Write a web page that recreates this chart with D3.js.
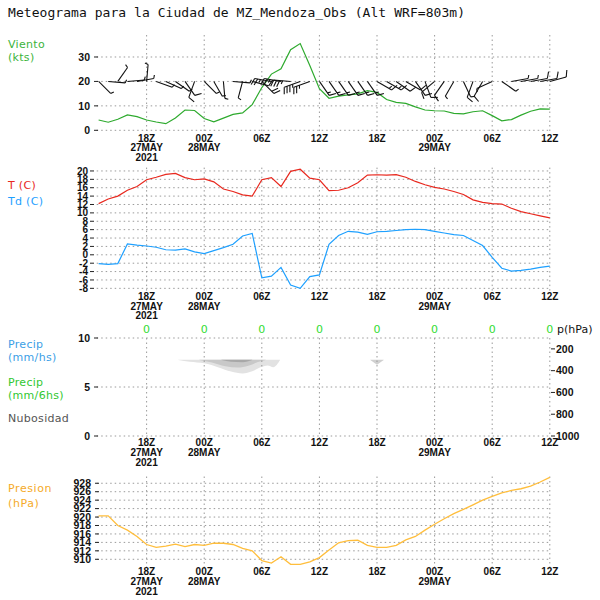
<!DOCTYPE html>
<html><head><meta charset="utf-8">
<script src="https://cdn.jsdelivr.net/npm/d3@7"></script>
<style>body{margin:0;background:#fff} svg{display:block}</style>
</head><body>
<svg id="c" width="600" height="600"></svg>
<script>
// ---------- DATA ----------
const hours = [13,14,15,16,17,18,19,20,21,22,23,24,25,26,27,28,29,30,31,32,33,34,35,36,
               37,38,39,40,41,42,43,44,45,46,47,48,49,50,51,52,53,54,55,56,57,58,59,60];
const windSpeed = [4.2,3.3,4.5,6.3,5.6,4.2,3.4,2.7,5.0,8.3,8.1,4.8,3.5,5.0,6.5,7.1,10.5,17.5,23.0,25.2,33.0,35.5,26.5,17.0,
                   13.1,14.0,14.5,14.9,16.2,15.5,12.6,11.4,11.0,9.6,8.3,8.0,7.9,6.9,6.7,7.6,8.0,6.0,3.9,4.4,6.2,7.8,8.8,8.7];
const windDir = [135,95,35,85,80,5,110,115,125,145,200,135,150,175,95,195,105,135,280,280,275,250,250,145,
                 145,145,145,145,145,120,120,125,120,145,160,230,215,210,155,200,210,245,125,80,80,80,80,75];
const temperature = [12.2,13.3,14.0,15.4,16.3,17.9,18.5,19.2,19.4,18.4,17.9,18.1,17.4,15.7,15.1,14.3,14.0,17.9,18.4,16.3,19.9,20.4,18.3,17.9,
                     15.3,15.4,16.0,17.2,19.0,19.1,19.0,19.1,18.5,17.5,16.7,16.1,15.7,15.1,14.4,13.1,12.5,12.2,12.1,11.1,10.3,9.8,9.3,8.8];
const dewpoint = [-2.1,-2.3,-2.1,2.6,2.3,2.1,1.8,1.2,1.1,1.4,0.7,0.3,1.0,1.7,2.5,4.5,5.1,-5.5,-5.1,-3.0,-7.2,-8.0,-5.2,-4.8,
                  2.5,4.6,5.6,5.4,4.9,5.5,5.6,5.8,6.0,6.1,6.0,5.6,5.2,4.8,4.6,3.4,2.2,-0.6,-3.2,-3.9,-3.7,-3.4,-3.0,-2.7];
const pressure = [920.3,920.3,918.0,916.9,915.4,913.5,912.8,913.1,913.6,913.0,913.5,913.3,913.8,913.8,913.5,912.6,912.0,909.7,909.1,910.6,908.8,908.8,909.4,910.4,
                  912.2,913.9,914.4,914.5,913.3,912.8,912.8,913.3,914.6,915.4,916.9,918.3,919.6,920.8,921.8,922.9,924.0,924.9,925.7,926.3,926.7,927.3,928.3,929.4];

const tickHours = [18,24,30,36,42,48,54,60];
const tickTimeLabels = ["18Z","00Z","06Z","12Z","18Z","00Z","06Z","12Z"];
const tickDateLabels = ["27MAY","28MAY","","","","29MAY","",""];
const tickYearLabels = ["2021","","","","","","",""];
const precip6h = [0,0,0,0,0,0,0,0];

const windTicks = [0,10,20,30];
const tempTicks = [20,18,16,14,12,10,8,6,4,2,0,-2,-4,-6,-8];
const precipTicks = [0,5,10];
const pLevelTicks = [200,400,600,800,1000];
const presTicks = [910,912,914,916,918,920,922,924,926,928];

// cloud cover cross-section: [hour, top hPa, bottom hPa]
const cloudLight = [[21.3,300,302],[22.5,300,318],[24,300,332],[25.5,300,370],[26.8,300,408],[28,300,425],[29,300,405],[30,300,365],[30.6,300,352],[31.2,300,368],[31.9,300,302]];
const cloudMedium = [[23.5,300,302],[24.8,300,325],[26.2,300,360],[27.5,300,372],[28.6,300,355],[29.6,300,320],[30.4,300,302]];
const cloudDark = [[25.8,300,302],[26.8,300,318],[28,300,322],[29,300,302]];
const cloudSmall = [[41.3,300,302],[42,300,345],[42.7,300,302]];

// ---------- DRAW ----------
const svg = d3.select("#c");
const FONT_TICK = "'Liberation Sans', Arial, sans-serif";
const FONT_LAB = "'DejaVu Sans', sans-serif";
const GRID = "#9a9a9a";

const x = d3.scaleLinear().domain([12.8, 60]).range([96.7, 549.8]);

svg.append("text").attr("x", 8).attr("y", 17)
  .attr("font-family", "'DejaVu Sans Mono', monospace").attr("font-size", 13)
  .attr("textLength", 457).attr("lengthAdjust", "spacing").attr("fill", "#111")
  .text("Meteograma para la Ciudad de MZ_Mendoza_Obs (Alt WRF=803m)");

function leftLabel(txt, y, color, ls) {
  svg.append("text").attr("x", 8).attr("y", y).attr("font-family", FONT_LAB)
    .attr("font-size", 11).attr("letter-spacing", ls || 0.3).attr("fill", color).text(txt);
}

function panel(cfg) {
  const g = svg.append("g");
  const [y0, y1] = cfg.y.range(); // bottom, top
  g.selectAll(".vg").data(tickHours).join("line")
    .attr("x1", d => x(d)).attr("x2", d => x(d))
    .attr("y1", y1).attr("y2", y0 + 3)
    .attr("stroke", GRID).attr("stroke-width", 1).attr("stroke-dasharray", "1.5,3");
  g.selectAll(".hg").data(cfg.ticks).join("line")
    .attr("x1", x.range()[0]).attr("x2", x.range()[1])
    .attr("y1", d => cfg.y(d)).attr("y2", d => cfg.y(d))
    .attr("stroke", GRID).attr("stroke-width", 1).attr("stroke-dasharray", "1.5,3");
  g.selectAll(".yd").data(cfg.ticks).join("line")
    .attr("x1", cfg.dash[0]).attr("x2", cfg.dash[1])
    .attr("y1", d => cfg.y(d)).attr("y2", d => cfg.y(d))
    .attr("stroke", "#222").attr("stroke-width", 1);
  g.selectAll(".yl").data(cfg.ticks).join("text")
    .attr("x", cfg.labelEnd).attr("y", d => cfg.y(d)).attr("dy", "0.36em")
    .attr("text-anchor", "end").attr("font-family", FONT_TICK).attr("font-weight", "bold")
    .attr("font-size", cfg.fs || 10.5).attr("fill", "#111").text(d => d);
  const rows = [tickTimeLabels, tickDateLabels, tickYearLabels];
  rows.forEach((arr, r) => {
    g.selectAll(".xl" + r).data(tickHours).join("text")
      .attr("x", d => x(d)).attr("y", cfg.xBase + r * cfg.xStep)
      .attr("text-anchor", "middle").attr("font-family", FONT_TICK).attr("font-weight", "bold")
      .attr("font-size", 10).attr("fill", "#111").text((d, i) => arr[i]);
  });
  return g;
}

// Wind panel
const yW = d3.scaleLinear().domain([0, 39]).range([130.3, 35]);
panel({y: yW, ticks: windTicks, dash: [94, 98], labelEnd: 90, xBase: 141.5, xStep: 9.5});
leftLabel("Viento", 48, "#3cb43c");
leftLabel("(kts)", 61, "#3cb43c");
svg.append("path").datum(hours.map((h, i) => [h, windSpeed[i]]))
  .attr("fill", "none").attr("stroke", "#2eaa2e").attr("stroke-width", 1.2)
  .attr("d", d3.line().x(d => x(d[0])).y(d => yW(d[1])));

// wind barbs at the 20 kt level
const barbG = svg.append("g").attr("stroke", "#111").attr("stroke-width", 1.1).attr("fill", "none");
hours.forEach((h, i) => {
  const x0 = x(h), y0 = yW(20);
  const a = windDir[i] * Math.PI / 180;
  const sx = Math.sin(a), sy = -Math.cos(a);
  const L = 17;
  const tx = x0 + L * sx, ty = y0 + L * sy;
  barbG.append("line").attr("x1", x0).attr("y1", y0).attr("x2", tx).attr("y2", ty);
  const spd = Math.round(windSpeed[i] / 5) * 5;
  const full = Math.floor(spd / 10), half = (spd % 10) ? 1 : 0;
  const ang = Math.atan2(sy, sx) - 70 * Math.PI / 180;
  const fx = Math.cos(ang), fy = Math.sin(ang);
  let pos = 0;
  for (let k = 0; k < full; k++) {
    const px = tx - pos * sx, py = ty - pos * sy;
    barbG.append("line").attr("x1", px).attr("y1", py).attr("x2", px + 7 * fx).attr("y2", py + 7 * fy);
    pos += 3;
  }
  if (half) {
    const px = tx - pos * sx, py = ty - pos * sy;
    barbG.append("line").attr("x1", px).attr("y1", py).attr("x2", px + 3.5 * fx).attr("y2", py + 3.5 * fy);
  }
});

// Temperature panel
const yT = d3.scaleLinear().domain([-8.3, 20.8]).range([289.6, 167.6]);
panel({y: yT, ticks: tempTicks, dash: [90, 94], labelEnd: 88, xBase: 300, xStep: 9.5, fs: 10});
leftLabel("T (C)", 189, "#e8281e");
leftLabel("Td (C)", 205, "#1ea0ff");
svg.append("path").datum(hours.map((h, i) => [h, temperature[i]]))
  .attr("fill", "none").attr("stroke", "#e8281e").attr("stroke-width", 1.2)
  .attr("d", d3.line().x(d => x(d[0])).y(d => yT(d[1])));
svg.append("path").datum(hours.map((h, i) => [h, dewpoint[i]]))
  .attr("fill", "none").attr("stroke", "#1ea0ff").attr("stroke-width", 1.2)
  .attr("d", d3.line().x(d => x(d[0])).y(d => yT(d[1])));

// Precip / cloud panel
const yP = d3.scaleLinear().domain([0, 10]).range([436, 338]);
const yLev = d3.scaleLinear().domain([100, 1000]).range([338, 436]);
const cloudArea = d3.area().x(d => x(d[0])).y0(d => yLev(d[1])).y1(d => yLev(d[2])).curve(d3.curveMonotoneX);
svg.append("path").datum(cloudLight).attr("fill", "#e2e2e2").attr("d", cloudArea);
svg.append("path").datum(cloudMedium).attr("fill", "#c8c8c8").attr("d", cloudArea);
svg.append("path").datum(cloudDark).attr("fill", "#a8a8a8").attr("d", cloudArea);
svg.append("path").datum(cloudSmall).attr("fill", "#d0d0d0").attr("d", d3.area().x(d => x(d[0])).y0(d => yLev(d[1])).y1(d => yLev(d[2])));
panel({y: yP, ticks: precipTicks, dash: [94, 98], labelEnd: 90, xBase: 445.5, xStep: 10.3});
leftLabel("Precip", 348, "#3ca0e6");
leftLabel("(mm/hs)", 361, "#3ca0e6");
leftLabel("Precip", 386, "#32c832");
leftLabel("(mm/6hs)", 399, "#32c832");
leftLabel("Nubosidad", 421.5, "#555555");
svg.selectAll(".rd").data(pLevelTicks).join("line")
  .attr("x1", 551).attr("x2", 555).attr("y1", d => yLev(d)).attr("y2", d => yLev(d))
  .attr("stroke", "#222");
svg.selectAll(".rl").data(pLevelTicks).join("text")
  .attr("x", 556).attr("y", d => yLev(d)).attr("dy", "0.36em")
  .attr("font-family", FONT_TICK).attr("font-weight", "bold").attr("font-size", 10.5).attr("fill", "#111").text(d => d);
svg.append("text").attr("x", 557).attr("y", 333).attr("font-family", FONT_LAB).attr("font-size", 11)
  .attr("fill", "#111").text("p(hPa)");
svg.selectAll(".p6").data(tickHours).join("text")
  .attr("x", d => x(d)).attr("y", 333).attr("text-anchor", "middle")
  .attr("font-family", FONT_LAB).attr("font-size", 11).attr("fill", "#32dc32").text((d, i) => precip6h[i]);

// Pressure panel
const yPr = d3.scaleLinear().domain([908.6, 929.6]).range([565.2, 476.5]);
panel({y: yPr, ticks: presTicks, dash: [95, 99], labelEnd: 91, xBase: 575, xStep: 10});
leftLabel("Presion", 492, "#f5aa28", 0.6);
leftLabel("(hPa)", 507, "#f5aa28", 0.6);
svg.append("path").datum(hours.map((h, i) => [h, pressure[i]]))
  .attr("fill", "none").attr("stroke", "#ffbe3c").attr("stroke-width", 1.3)
  .attr("d", d3.line().x(d => x(d[0])).y(d => yPr(d[1])));
</script>
</body></html>
